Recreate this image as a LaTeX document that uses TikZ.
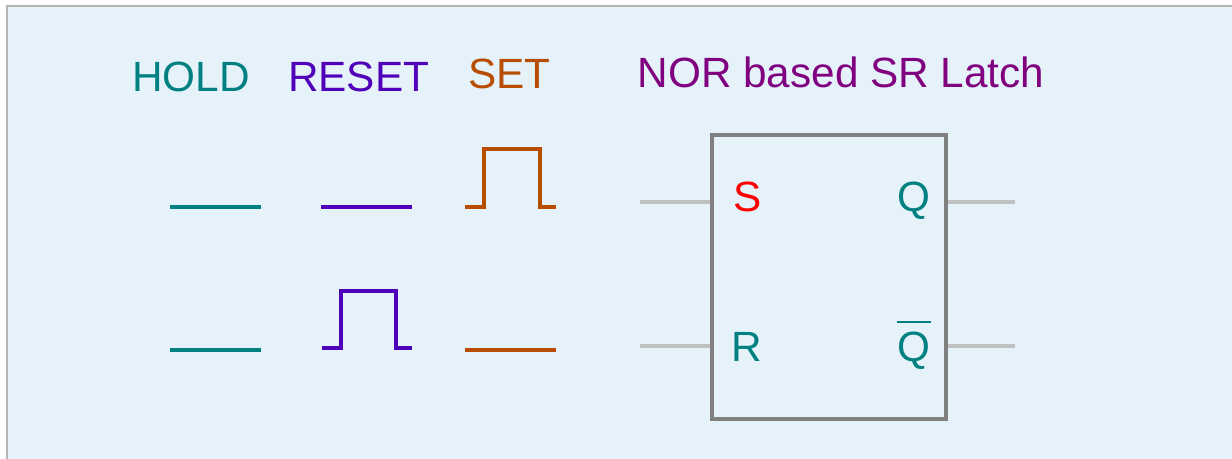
\documentclass[tikz,border=0pt]{standalone}
\usepackage{fontspec}
\setmainfont{Liberation Sans}
\definecolor{bgblue}{HTML}{E5F2FA}
\definecolor{bgline}{HTML}{B4B4B4}
\definecolor{holdcol}{HTML}{008080}
\definecolor{resetcol}{HTML}{4F00B8}
\definecolor{setcol}{HTML}{B84C00}
\definecolor{titlecol}{HTML}{800080}
\definecolor{boxgrey}{HTML}{808080}
\definecolor{pingrey}{HTML}{C0C0C0}
\tikzset{
    lbl/.style={inner sep=0pt, anchor=base west, font=\fontsize{42.3}{50}\selectfont},
    pinlbl/.style={inner sep=0pt, anchor=base, font=\fontsize{42.3}{50}\selectfont},
    wave/.style={line width=4pt},
    pin/.style={draw=pingrey, line width=3.5pt}
}
\begin{document}
\begin{tikzpicture}[x=1pt, y=-1pt]
    \clip (0,0) rectangle (1232,458);
    \draw[bgline, fill=bgblue, line width=1.5pt] (7,6) rectangle (1250,470);

    % headings
    \node[lbl, holdcol] (hold) at (132,91.7) {HOLD};
    \node[lbl, resetcol] (reset) at (288,91.7) {RESET};
    \node[lbl, setcol] (set) at (468,88.3) {SET};
    \node[lbl, titlecol] (title) at (637.5,87.7) {NOR based SR Latch};

    % waveforms, S row then R row
    \draw[wave, holdcol] (170,207) -- (261,207);
    \draw[wave, resetcol] (321,207) -- (412,207);
    \draw[wave, setcol] (465,207) -- (484.3,207) -- (484.3,149.3)
        -- (540,149.3) -- (540,207) -- (556,207);
    \draw[wave, holdcol] (170,350) -- (261,350);
    \draw[wave, resetcol] (321.7,348) -- (340.7,348) -- (340.7,291)
        -- (396,291) -- (396,348) -- (412.3,348);
    \draw[wave, setcol] (465,350) -- (556,350);

    % latch
    \node[draw=boxgrey, line width=4pt, minimum width=234pt, minimum height=284pt,
        inner sep=0pt] (latch) at (829.3,277) {};
    \coordinate (sin) at (640,202);
    \coordinate (rin) at (640,346);
    \coordinate (qout) at (1015,202);
    \coordinate (qbout) at (1015,346);
    \draw[pin] (sin) -- (latch.west |- sin);
    \draw[pin] (rin) -- (latch.west |- rin);
    \draw[pin] (latch.east |- qout) -- (qout);
    \draw[pin] (latch.east |- qbout) -- (qbout);

    \node[pinlbl, red] (s) at (747.5,211.7) {S};
    \node[pinlbl, holdcol] (r) at (746.5,361.7) {R};
    \node[pinlbl, holdcol] (q) at (914,211.7) {Q};
    \node[pinlbl, holdcol] (qb) at (914,361.7) {Q};
    \draw[holdcol, line width=2.5pt] ([yshift=10pt]qb.north west) -- ([yshift=10pt]qb.north east);
\end{tikzpicture}
\end{document}
